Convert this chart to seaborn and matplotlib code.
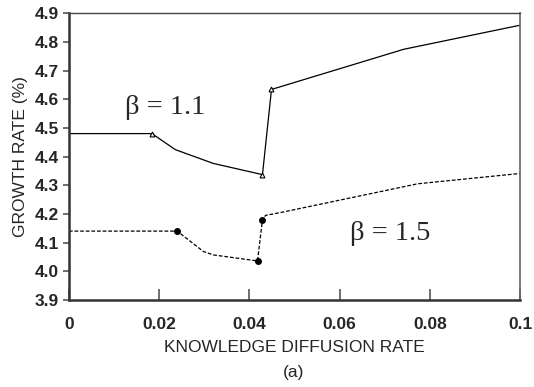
import matplotlib
matplotlib.use("Agg")
import matplotlib.pyplot as plt
import seaborn as sns
import pandas as pd

# beta = 1.1 series (solid)
x_b11 = [0.0, 0.0184, 0.0236, 0.032, 0.0429, 0.0449, 0.0742, 0.1]
y_b11 = [4.48, 4.48, 4.424, 4.376, 4.337, 4.634, 4.774, 4.858]
mk_b11 = [False, True, False, False, True, True, False, False]

# beta = 1.5 series (dashed)
x_b15 = [0.0, 0.024, 0.0298, 0.032, 0.0418, 0.0429, 0.0436, 0.047, 0.0773, 0.1]
y_b15 = [4.14, 4.14, 4.069, 4.057, 4.036, 4.180, 4.195, 4.205, 4.305, 4.341]
mk_b15 = [False, True, False, False, True, True, False, False, False, False]

x_ticks = [0, 0.02, 0.04, 0.06, 0.08, 0.1]
x_ticklabels = ["0", "0.02", "0.04", "0.06", "0.08", "0.1"]
y_ticks = [3.9, 4.0, 4.1, 4.2, 4.3, 4.4, 4.5, 4.6, 4.7, 4.8, 4.9]

sns.set_style("white")
plt.rcParams['font.family'] = ['Liberation Sans', 'DejaVu Sans']

fig = plt.figure(figsize=(5.34, 3.87), dpi=100)
ax = fig.add_axes([0.129, 0.225, 0.845, 0.741])

d11 = pd.DataFrame({"x": x_b11, "y": y_b11})
d15 = pd.DataFrame({"x": x_b15, "y": y_b15})
sns.lineplot(data=d11, x="x", y="y", ax=ax, color="black", lw=0.9, sort=False, estimator=None)
sns.lineplot(data=d15, x="x", y="y", ax=ax, color="black", lw=0.9, sort=False, estimator=None,
             linestyle=(0, (3, 1.5)))
m11 = d11[mk_b11]
m15 = d15[mk_b15]
ax.plot(m11.x, m11.y, linestyle="none", marker="^", ms=3.5, mfc="white", mec="black", mew=0.8)
ax.plot(m15.x, m15.y, linestyle="none", marker="o", ms=4, color="black")

ax.set_xlim(0, 0.1)
ax.set_ylim(3.9, 4.9)
ax.set_xticks(x_ticks)
ax.set_xticklabels(x_ticklabels, fontweight="bold", fontsize=12.5)
ax.set_yticks(y_ticks)
ax.set_yticklabels([f"{v:.1f}" for v in y_ticks], fontweight="bold", fontsize=12.5)
ax.tick_params(axis="x", direction="in", length=8, width=1.2, color="#555555", pad=12, bottom=True)
ax.tick_params(axis="y", direction="out", length=4, width=1.2, color="#555555", pad=3, left=True)

for s in ["left", "bottom"]:
    ax.spines[s].set_color("#333333")
    ax.spines[s].set_linewidth(1.8)
ax.spines["top"].set_color("#444444")
ax.spines["top"].set_linewidth(1.0)
ax.spines["right"].set_color("#666666")
ax.spines["right"].set_linewidth(1.2)

ax.set_xlabel("KNOWLEDGE DIFFUSION RATE", fontsize=12.5, labelpad=6)
ax.set_ylabel("GROWTH RATE (%)", fontsize=12.5, labelpad=5)
fig.text(0.5505, 1 - 373 / 387, "(a)", fontsize=12.5, ha="center", va="center")

ax.text(0.0124, 4.57, "β = 1.1", family="Liberation Serif", fontsize=20.5, va="center", ha="left")
ax.text(0.0624, 4.13, "β = 1.5", family="Liberation Serif", fontsize=20.5, va="center", ha="left")

fig.savefig("out.png", dpi=100)
